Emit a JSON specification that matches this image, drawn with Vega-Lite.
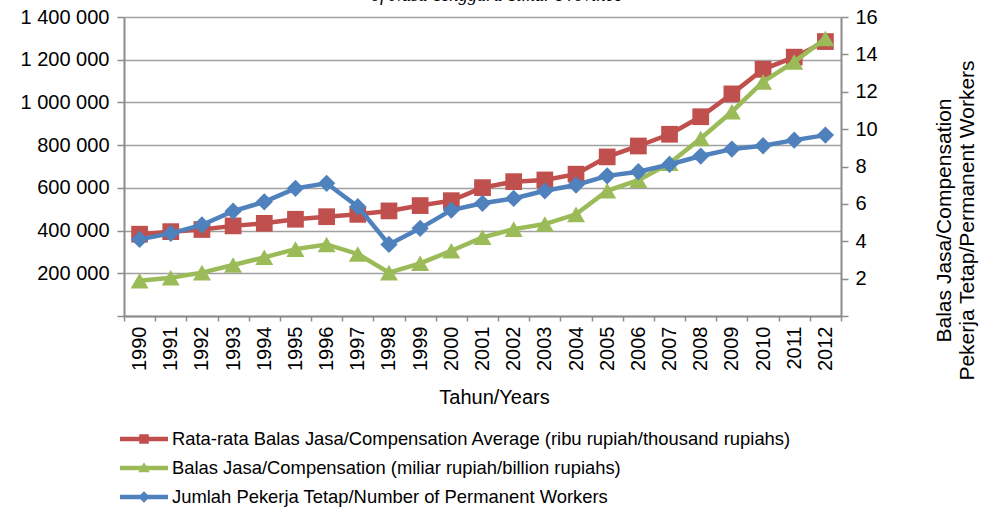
{
  "$schema": "https://vega.github.io/schema/vega-lite/v6.json",
  "width": 717,
  "height": 299,
  "autosize": {"type": "none"},
  "padding": {"left": 124, "top": 17, "right": 148, "bottom": 196},
  "background": "white",
  "config": {
    "font": "Liberation Sans",
    "view": {"stroke": null},
    "axis": {
      "labelFont": "Liberation Sans",
      "titleFont": "Liberation Sans",
      "labelColor": "#000000",
      "titleColor": "#000000",
      "labelFontSize": 20,
      "titleFontSize": 20,
      "titleFontWeight": "normal",
      "domainColor": "#8c8c8c",
      "domainWidth": 2,
      "tickColor": "#8c8c8c",
      "tickWidth": 1.5,
      "gridColor": "#a0a0a0",
      "gridWidth": 1.5,
      "labelOverlap": false
    }
  },
  "title": {
    "text": "of Nusa Tenggara Timur Province",
    "font": "Liberation Serif",
    "fontStyle": "italic",
    "fontWeight": "normal",
    "fontSize": 18.5,
    "color": "#000000",
    "anchor": "middle",
    "frame": "group",
    "baseline": "alphabetic",
    "offset": -12,
    "dx": 14
  },
  "data": {
    "values": [
      {"year": "1990", "avg": 383000, "comp": 1.89, "workers": 4.10},
      {"year": "1991", "avg": 395000, "comp": 2.05, "workers": 4.42},
      {"year": "1992", "avg": 405000, "comp": 2.32, "workers": 4.87},
      {"year": "1993", "avg": 422000, "comp": 2.73, "workers": 5.61},
      {"year": "1994", "avg": 434000, "comp": 3.14, "workers": 6.11},
      {"year": "1995", "avg": 453000, "comp": 3.58, "workers": 6.83},
      {"year": "1996", "avg": 465000, "comp": 3.83, "workers": 7.10},
      {"year": "1997", "avg": 476000, "comp": 3.32, "workers": 5.85},
      {"year": "1998", "avg": 492000, "comp": 2.32, "workers": 3.83},
      {"year": "1999", "avg": 517000, "comp": 2.82, "workers": 4.69},
      {"year": "2000", "avg": 540000, "comp": 3.49, "workers": 5.67},
      {"year": "2001", "avg": 601000, "comp": 4.21, "workers": 6.03},
      {"year": "2002", "avg": 629000, "comp": 4.65, "workers": 6.29},
      {"year": "2003", "avg": 637000, "comp": 4.92, "workers": 6.70},
      {"year": "2004", "avg": 664000, "comp": 5.44, "workers": 7.01},
      {"year": "2005", "avg": 745000, "comp": 6.70, "workers": 7.50},
      {"year": "2006", "avg": 796000, "comp": 7.27, "workers": 7.72},
      {"year": "2007", "avg": 851000, "comp": 8.17, "workers": 8.11},
      {"year": "2008", "avg": 933000, "comp": 9.50, "workers": 8.56},
      {"year": "2009", "avg": 1040000, "comp": 10.93, "workers": 8.93},
      {"year": "2010", "avg": 1155000, "comp": 12.53, "workers": 9.11},
      {"year": "2011", "avg": 1212000, "comp": 13.60, "workers": 9.41},
      {"year": "2012", "avg": 1285000, "comp": 14.85, "workers": 9.68}
    ]
  },
  "encoding": {
    "x": {
      "field": "year",
      "type": "ordinal",
      "scale": {"type": "band", "paddingInner": 0, "paddingOuter": 0},
      "axis": {
        "title": "Tahun/Years",
        "labelAngle": -90,
        "labelAlign": "right",
        "labelBaseline": "middle",
        "tickBand": "extent",
        "tickSize": 5,
        "labelPadding": 5,
        "grid": false,
        "titleX": 370,
        "titleY": 81,
        "titleBaseline": "middle",
        "titleAnchor": null
      }
    }
  },
  "layer": [
    {
      "encoding": {
        "y": {
          "field": "avg",
          "type": "quantitative",
          "scale": {"domain": [0, 1400000]},
          "axis": {
            "orient": "left",
            "title": null,
            "values": [0, 200000, 400000, 600000, 800000, 1000000, 1200000, 1400000],
            "grid": true,
            "tickSize": 7,
            "labelPadding": 8,
            "labelExpr": "datum.value == 0 ? '' : replace(replace(format(datum.value, ','), ',', ' '), ',', ' ')"
          }
        }
      },
      "layer": [
        {
          "mark": {"type": "line", "color": "#C0504D", "strokeWidth": 4.5}
        },
        {
          "mark": {"type": "point", "shape": "square", "filled": true, "size": 280, "color": "#C0504D", "opacity": 1}
        },
        {
          "transform": [{"fold": ["avg", "comp", "workers"], "as": ["series", "v"]}],
          "mark": {"type": "point", "filled": true, "opacity": 0},
          "encoding": {
            "color": {
              "field": "series",
              "type": "nominal",
              "scale": {"domain": ["avg", "comp", "workers"], "range": ["#C0504D", "#9BBB59", "#4F81BD"]},
              "legend": {
                "title": null,
                "orient": "none",
                "legendX": -4,
                "legendY": 410,
                "direction": "vertical",
                "symbolSize": 576,
                "symbolStrokeWidth": 0,
                "symbolOpacity": 1,
                "labelFontSize": 18.4,
                "labelFont": "Liberation Sans",
                "labelColor": "#000000",
                "labelOffset": 28,
                "labelLimit": 1000,
                "rowPadding": 7,
                "padding": 0,
                "labelExpr": "datum.value == 'avg' ? 'Rata-rata Balas Jasa/Compensation Average (ribu rupiah/thousand rupiahs)' : datum.value == 'comp' ? 'Balas Jasa/Compensation (miliar rupiah/billion rupiahs)' : 'Jumlah Pekerja Tetap/Number of Permanent Workers'"
              }
            },
            "shape": {
              "field": "series",
              "type": "nominal",
              "scale": {
                "domain": ["avg", "comp", "workers"],
                "range": [
                  "M-1,-0.18H3V0.18H-1Z M0.6,-0.4H1.4V0.4H0.6Z",
                  "M-1,-0.18H3V0.18H-1Z M1,-0.48L1.48,0.36H0.52Z",
                  "M-1,-0.18H3V0.18H-1Z M1,-0.48L1.48,0L1,0.48L0.52,0Z"
                ]
              },
              "legend": {
                "title": null,
                "orient": "none",
                "legendX": -4,
                "legendY": 410,
                "direction": "vertical",
                "symbolSize": 576,
                "symbolStrokeWidth": 0,
                "symbolOpacity": 1,
                "labelFontSize": 18.4,
                "labelFont": "Liberation Sans",
                "labelColor": "#000000",
                "labelOffset": 28,
                "labelLimit": 1000,
                "rowPadding": 7,
                "padding": 0,
                "labelExpr": "datum.value == 'avg' ? 'Rata-rata Balas Jasa/Compensation Average (ribu rupiah/thousand rupiahs)' : datum.value == 'comp' ? 'Balas Jasa/Compensation (miliar rupiah/billion rupiahs)' : 'Jumlah Pekerja Tetap/Number of Permanent Workers'"
              }
            }
          }
        }
      ]
    },
    {
      "transform": [{"fold": ["comp", "workers"], "as": ["key", "v"]}],
      "encoding": {
        "y": {
          "field": "v",
          "type": "quantitative",
          "scale": {"domain": [0, 16]},
          "axis": {
            "orient": "right",
            "title": ["Balas Jasa/Compensation", "Pekerja Tetap/Permanent Workers"],
            "titleAngle": 270,
            "titleFontSize": 21,
            "titleLineHeight": 23,
            "titleX": 103,
            "titleY": 203,
            "titleAlign": "center",
            "titleBaseline": "middle",
            "titleAnchor": null,
            "values": [0, 2, 4, 6, 8, 10, 12, 14, 16],
            "grid": false,
            "tickSize": 7,
            "labelPadding": 7,
            "labelOverlap": false,
            "labelExpr": "datum.value == 0 ? '' : datum.label"
          }
        }
      },
      "layer": [
        {
          "transform": [{"filter": "datum.key == 'comp'"}],
          "mark": {"type": "line", "color": "#9BBB59", "strokeWidth": 4.5}
        },
        {
          "transform": [{"filter": "datum.key == 'comp'"}],
          "mark": {"type": "point", "shape": "triangle-up", "filled": true, "size": 324, "color": "#9BBB59", "opacity": 1}
        },
        {
          "transform": [{"filter": "datum.key == 'workers'"}],
          "mark": {"type": "line", "color": "#4F81BD", "strokeWidth": 4.5}
        },
        {
          "transform": [{"filter": "datum.key == 'workers'"}],
          "mark": {"type": "point", "shape": "diamond", "filled": true, "size": 300, "color": "#4F81BD", "opacity": 1}
        }
      ]
    }
  ],
  "resolve": {"scale": {"y": "independent"}}
}
